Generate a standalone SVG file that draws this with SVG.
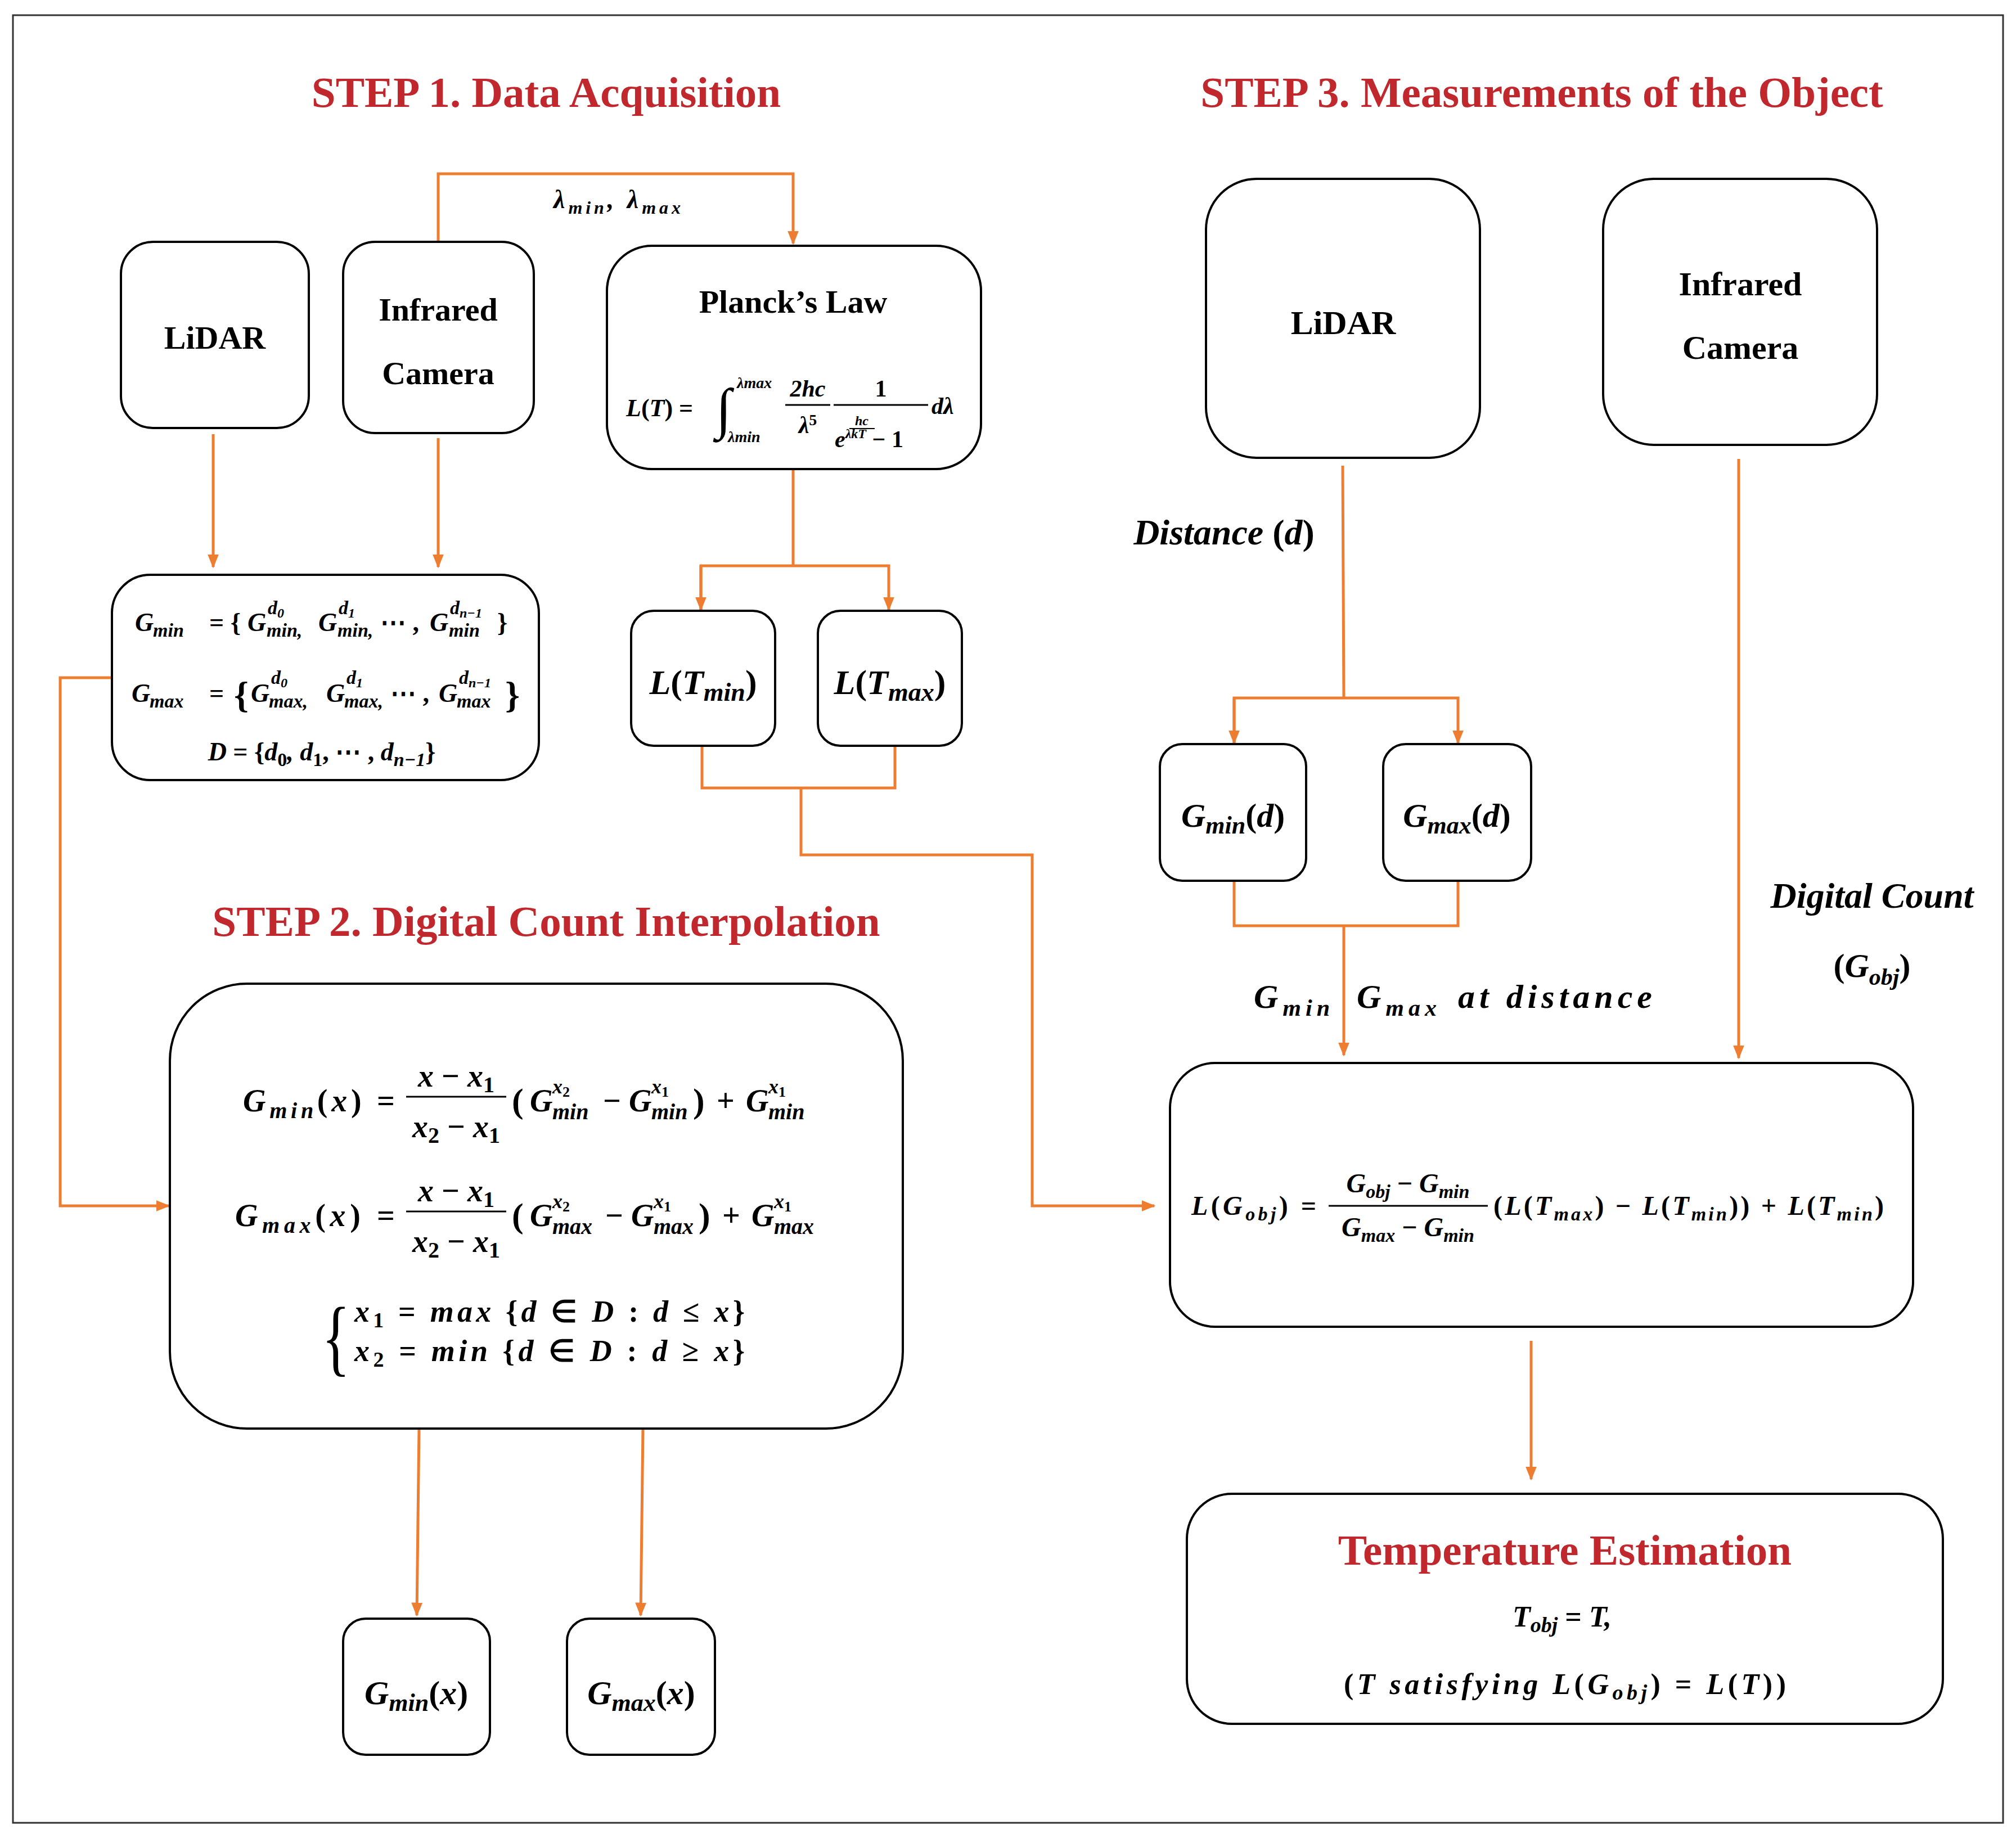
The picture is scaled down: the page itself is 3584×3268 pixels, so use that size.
<svg xmlns="http://www.w3.org/2000/svg" width="3584" height="3268" viewBox="0 0 3584 3268">
<style>
.bx{fill:#fff;stroke:#000;stroke-width:4}
.c{fill:none;stroke:#ED7D31;stroke-width:5}
.t{font-family:"Liberation Serif",serif;font-weight:bold;fill:#000}
.r{font-family:"Liberation Serif",serif;font-weight:bold;fill:#C0282D;font-size:77px}
.m{font-family:"Liberation Serif",serif;font-weight:bold;font-style:italic;fill:#000}
.u{font-style:normal}
.fl{stroke:#000;stroke-width:3}
</style>
<defs>
<marker id="a" viewBox="0 0 10 10" refX="9" refY="5" markerWidth="5" markerHeight="5" orient="auto" markerUnits="strokeWidth"><path d="M0,1 L10,5 L0,9 z" fill="#ED7D31"/></marker>
</defs>
<rect x="23" y="27" width="3538" height="3214" fill="#fff" stroke="#333" stroke-width="3"/>

<text class="r" x="971" y="190" text-anchor="middle">STEP 1. Data Acquisition</text>
<text class="r" x="2741" y="190" text-anchor="middle">STEP 3. Measurements of the Object</text>
<text class="r" x="971" y="1664" text-anchor="middle">STEP 2. Digital Count Interpolation</text>

<g id="connectors">
<path class="c" d="M779,430 V309 H1410 V433" marker-end="url(#a)"/>
<path class="c" d="M379,772 V1008" marker-end="url(#a)"/>
<path class="c" d="M779,779 V1008" marker-end="url(#a)"/>
<path class="c" d="M1410,834 V1006 M1246,1084 V1006 H1580 V1084" marker-end="url(#a)"/>
<path class="c" d="M1246,1006 V1084" marker-end="url(#a)"/>
<path class="c" d="M1248,1326 V1401 H1591 V1326 M1424,1401 V1520 H1835 V2144 H2052" marker-end="url(#a)"/>
<path class="c" d="M199,1205 H107 V2144 H300" marker-end="url(#a)"/>
<path class="c" d="M745,2540 L741,2872" marker-end="url(#a)"/>
<path class="c" d="M1143,2540 L1139,2872" marker-end="url(#a)"/>
<path class="c" d="M2387,828 L2389,1241 M2194,1321 V1241 H2592 V1321" marker-end="url(#a)"/>
<path class="c" d="M2194,1241 V1321" marker-end="url(#a)"/>
<path class="c" d="M2194,1566 V1646 H2592 V1566 M2389,1646 V1876" marker-end="url(#a)"/>
<path class="c" d="M3091,816 V1881" marker-end="url(#a)"/>
<path class="c" d="M2722,2384 V2630" marker-end="url(#a)"/>
</g>

<text class="m" x="984" y="370" font-size="46" textLength="226">λ<tspan font-size="32" dy="10">min</tspan><tspan dy="-10">, λ</tspan><tspan font-size="32" dy="10">max</tspan></text>
<text class="m" x="2176" y="968" font-size="64" text-anchor="middle">Distance <tspan class="u">(</tspan>d<tspan class="u">)</tspan></text>
<text class="m" x="2229" y="1792" font-size="60" textLength="708">G<tspan font-size="42" dy="14">min</tspan><tspan dy="-14" dx="40">G</tspan><tspan font-size="42" dy="14">max</tspan><tspan dy="-14" dx="30">at distance</tspan></text>
<text class="m" x="3328" y="1614" font-size="64" text-anchor="middle">Digital Count</text>
<text class="m" x="3328" y="1737" font-size="60" text-anchor="middle"><tspan class="u">(</tspan>G<tspan font-size="42" dy="14">obj</tspan><tspan class="u" dy="-14">)</tspan></text>

<g id="lidar1"><rect class="bx" x="215" y="430" width="334" height="331" rx="57"/>
<text class="t" x="382" y="620" font-size="58" text-anchor="middle">LiDAR</text></g>
<g id="ir1"><rect class="bx" x="610" y="430" width="339" height="340" rx="57"/>
<text class="t" x="779" y="570" font-size="58" text-anchor="middle">Infrared</text>
<text class="t" x="779" y="683" font-size="58" text-anchor="middle">Camera</text></g>

<g id="planck"><rect class="bx" x="1079" y="437" width="665" height="397" rx="80"/>
<text class="t" x="1410" y="556" font-size="58" text-anchor="middle">Planck’s Law</text>
<text class="m" x="1113" y="740" font-size="44">L<tspan class="u">(</tspan>T<tspan class="u">) =</tspan></text>
<text class="m" x="1272" y="760" font-size="100" font-weight="normal">∫</text>
<text class="m" x="1310" y="690" font-size="28">λ<tspan>max</tspan></text>
<text class="m" x="1294" y="786" font-size="28">λ<tspan>min</tspan></text>
<text class="m" x="1436" y="705" font-size="42" text-anchor="middle">2hc</text>
<line class="fl" x1="1396" y1="720" x2="1476" y2="720"/>
<text class="m" x="1436" y="770" font-size="42" text-anchor="middle">λ<tspan class="u" font-size="28" dy="-14">5</tspan></text>
<text class="m u" x="1566" y="705" font-size="42" text-anchor="middle">1</text>
<line class="fl" x1="1482" y1="720" x2="1650" y2="720"/>
<text class="m" x="1532" y="756" font-size="24" text-anchor="middle">hc</text>
<line x1="1510" y1="762" x2="1555" y2="762" stroke="#000" stroke-width="2"/>
<text class="m" x="1484" y="795" font-size="42">e<tspan font-size="24" dy="-16">λkT</tspan><tspan class="u" dy="16"> − 1</tspan></text>
<text class="m" x="1656" y="736" font-size="42">dλ</text></g>

<g id="gset"><rect class="bx" x="199" y="1022" width="759" height="365" rx="68"/>
<text class="m" x="240" y="1122" font-size="46">G</text><text class="m" x="272" y="1132" font-size="34">min</text>
<text class="m u" x="372" y="1122" font-size="46">= {</text>
<text class="m" x="440" y="1122" font-size="46">G</text>
<text class="m" x="476" y="1092" font-size="34">d<tspan font-size="24" dy="6">0</tspan></text><text class="m" x="474" y="1132" font-size="34">min,</text>
<text class="m" x="566" y="1122" font-size="46">G</text>
<text class="m" x="602" y="1092" font-size="34">d<tspan font-size="24" dy="6">1</tspan></text><text class="m" x="600" y="1132" font-size="34">min,</text>
<text class="m u" x="676" y="1122" font-size="46">⋯ ,</text>
<text class="m" x="764" y="1122" font-size="46">G</text>
<text class="m" x="800" y="1092" font-size="34">d<tspan font-size="24" dy="6">n−1</tspan></text><text class="m" x="798" y="1132" font-size="34">min</text>
<text class="m u" x="884" y="1122" font-size="46">}</text>

<text class="m" x="234" y="1248" font-size="46">G</text><text class="m" x="266" y="1258" font-size="34">max</text>
<text class="m u" x="372" y="1248" font-size="46">=</text>
<text class="m u" x="416" y="1258" font-size="66" font-weight="normal">{</text>
<text class="m" x="446" y="1248" font-size="46">G</text>
<text class="m" x="482" y="1216" font-size="34">d<tspan font-size="24" dy="6">0</tspan></text><text class="m" x="478" y="1258" font-size="34">max,</text>
<text class="m" x="580" y="1248" font-size="46">G</text>
<text class="m" x="616" y="1216" font-size="34">d<tspan font-size="24" dy="6">1</tspan></text><text class="m" x="612" y="1258" font-size="34">max,</text>
<text class="m u" x="694" y="1248" font-size="46">⋯ ,</text>
<text class="m" x="780" y="1248" font-size="46">G</text>
<text class="m" x="816" y="1216" font-size="34">d<tspan font-size="24" dy="6">n−1</tspan></text><text class="m" x="812" y="1258" font-size="34">max</text>
<text class="m u" x="898" y="1258" font-size="66" font-weight="normal">}</text>
<text class="m" x="572" y="1352" font-size="46" text-anchor="middle">D<tspan class="u"> = {</tspan>d<tspan font-size="34" dy="10" class="u">0</tspan><tspan dy="-10">, d</tspan><tspan font-size="34" dy="10" class="u">1</tspan><tspan dy="-10" class="u">, ⋯ , </tspan>d<tspan font-size="34" dy="10">n−1</tspan><tspan class="u" dy="-10">}</tspan></text></g>

<g id="ltmin"><rect class="bx" x="1122" y="1086" width="256" height="240" rx="40"/>
<text class="m" x="1250" y="1234" font-size="62" text-anchor="middle">L<tspan class="u">(</tspan>T<tspan font-size="46" dy="12">min</tspan><tspan class="u" dy="-12">)</tspan></text></g>
<g id="ltmax"><rect class="bx" x="1454" y="1086" width="256" height="240" rx="40"/>
<text class="m" x="1582" y="1234" font-size="62" text-anchor="middle">L<tspan class="u">(</tspan>T<tspan font-size="46" dy="12">max</tspan><tspan class="u" dy="-12">)</tspan></text></g>

<g id="step2box"><rect class="bx" x="302" y="1749" width="1303" height="791" rx="137"/>
<text class="m" x="432" y="1976" font-size="56" textLength="270">G<tspan font-size="40" dy="12">min</tspan><tspan class="u" dy="-12">(</tspan>x<tspan class="u">) =</tspan></text>
<text class="m" x="811" y="1932" font-size="56" text-anchor="middle">x <tspan class="u">−</tspan> x<tspan class="u" font-size="40" dy="10">1</tspan></text>
<line class="fl" x1="722" y1="1950" x2="900" y2="1950"/>
<text class="m" x="811" y="2022" font-size="56" text-anchor="middle">x<tspan class="u" font-size="40" dy="10">2</tspan><tspan dy="-10" class="u"> − </tspan>x<tspan class="u" font-size="40" dy="10">1</tspan></text>
<text class="m u" x="910" y="1978" font-size="62">(</text>
<text class="m" x="942" y="1976" font-size="56">G</text><text class="m" x="982" y="1944" font-size="36">x<tspan font-size="26" dy="6" class="u">2</tspan></text><text class="m" x="982" y="1990" font-size="40">min</text>
<text class="m u" x="1072" y="1976" font-size="56">−</text>
<text class="m" x="1118" y="1976" font-size="56">G</text><text class="m" x="1158" y="1944" font-size="36">x<tspan font-size="26" dy="6" class="u">1</tspan></text><text class="m" x="1158" y="1990" font-size="40">min</text>
<text class="m u" x="1232" y="1978" font-size="62">)</text>
<text class="m u" x="1274" y="1976" font-size="56">+</text>
<text class="m" x="1326" y="1976" font-size="56">G</text><text class="m" x="1366" y="1944" font-size="36">x<tspan font-size="26" dy="6" class="u">1</tspan></text><text class="m" x="1366" y="1990" font-size="40">min</text>

<text class="m" x="418" y="2180" font-size="56" textLength="284">G<tspan font-size="40" dy="12">max</tspan><tspan class="u" dy="-12">(</tspan>x<tspan class="u">) =</tspan></text>
<text class="m" x="811" y="2136" font-size="56" text-anchor="middle">x <tspan class="u">−</tspan> x<tspan class="u" font-size="40" dy="10">1</tspan></text>
<line class="fl" x1="722" y1="2154" x2="900" y2="2154"/>
<text class="m" x="811" y="2226" font-size="56" text-anchor="middle">x<tspan class="u" font-size="40" dy="10">2</tspan><tspan dy="-10" class="u"> − </tspan>x<tspan class="u" font-size="40" dy="10">1</tspan></text>
<text class="m u" x="910" y="2182" font-size="62">(</text>
<text class="m" x="942" y="2180" font-size="56">G</text><text class="m" x="982" y="2148" font-size="36">x<tspan font-size="26" dy="6" class="u">2</tspan></text><text class="m" x="982" y="2194" font-size="40">max</text>
<text class="m u" x="1076" y="2180" font-size="56">−</text>
<text class="m" x="1122" y="2180" font-size="56">G</text><text class="m" x="1162" y="2148" font-size="36">x<tspan font-size="26" dy="6" class="u">1</tspan></text><text class="m" x="1162" y="2194" font-size="40">max</text>
<text class="m u" x="1242" y="2182" font-size="62">)</text>
<text class="m u" x="1284" y="2180" font-size="56">+</text>
<text class="m" x="1336" y="2180" font-size="56">G</text><text class="m" x="1376" y="2148" font-size="36">x<tspan font-size="26" dy="6" class="u">1</tspan></text><text class="m" x="1376" y="2194" font-size="40">max</text>

<text x="572" y="2428" font-size="150" font-family="Liberation Serif,serif" transform="translate(572,2428) scale(0.7,1) translate(-572,-2428)">{</text>
<text class="m" x="630" y="2350" font-size="54" textLength="694">x<tspan class="u" font-size="38" dy="10">1</tspan><tspan class="u" dy="-10">  =  </tspan>max<tspan class="u"> {</tspan>d <tspan class="u">∈</tspan> D <tspan class="u">:</tspan>  d <tspan class="u">≤</tspan>  x<tspan class="u">}</tspan></text>
<text class="m" x="630" y="2420" font-size="54" textLength="694">x<tspan class="u" font-size="38" dy="10">2</tspan><tspan class="u" dy="-10">  =  </tspan>min<tspan class="u"> {</tspan>d <tspan class="u">∈</tspan> D <tspan class="u">:</tspan>  d <tspan class="u">≥</tspan>  x<tspan class="u">}</tspan></text></g>

<g id="gminx"><rect class="bx" x="610" y="2878" width="261" height="242" rx="40"/>
<text class="m" x="740" y="3030" font-size="60" text-anchor="middle">G<tspan font-size="44" dy="12">min</tspan><tspan class="u" dy="-12">(</tspan>x<tspan class="u">)</tspan></text></g>
<g id="gmaxx"><rect class="bx" x="1008" y="2878" width="263" height="242" rx="40"/>
<text class="m" x="1140" y="3030" font-size="60" text-anchor="middle">G<tspan font-size="44" dy="12">max</tspan><tspan class="u" dy="-12">(</tspan>x<tspan class="u">)</tspan></text></g>

<g id="lidar3"><rect class="bx" x="2144" y="318" width="487" height="496" rx="90"/>
<text class="t" x="2388" y="594" font-size="60" text-anchor="middle">LiDAR</text></g>
<g id="ir3"><rect class="bx" x="2850" y="318" width="487" height="473" rx="90"/>
<text class="t" x="3094" y="525" font-size="60" text-anchor="middle">Infrared</text>
<text class="t" x="3094" y="638" font-size="60" text-anchor="middle">Camera</text></g>

<g id="gmind"><rect class="bx" x="2062" y="1323" width="260" height="243" rx="40"/>
<text class="m" x="2192" y="1470" font-size="60" text-anchor="middle">G<tspan font-size="44" dy="12">min</tspan><tspan class="u" dy="-12">(</tspan>d<tspan class="u">)</tspan></text></g>
<g id="gmaxd"><rect class="bx" x="2459" y="1323" width="263" height="243" rx="40"/>
<text class="m" x="2590" y="1470" font-size="60" text-anchor="middle">G<tspan font-size="44" dy="12">max</tspan><tspan class="u" dy="-12">(</tspan>d<tspan class="u">)</tspan></text></g>

<g id="lgobj"><rect class="bx" x="2080" y="1890" width="1321" height="469" rx="80"/>
<text class="m" x="2118" y="2160" font-size="48" textLength="222">L<tspan class="u">(</tspan>G<tspan font-size="34" dy="10">obj</tspan><tspan class="u" dy="-10">) =</tspan></text>
<text class="m" x="2503" y="2120" font-size="48" text-anchor="middle">G<tspan font-size="34" dy="10">obj</tspan><tspan class="u" dy="-10"> − </tspan>G<tspan font-size="34" dy="10">min</tspan></text>
<line class="fl" x1="2362" y1="2144" x2="2645" y2="2144"/>
<text class="m" x="2503" y="2198" font-size="48" text-anchor="middle">G<tspan font-size="34" dy="10">max</tspan><tspan class="u" dy="-10"> − </tspan>G<tspan font-size="34" dy="10">min</tspan></text>
<text class="m" x="2655" y="2160" font-size="48" textLength="694"><tspan class="u">(</tspan>L<tspan class="u">(</tspan>T<tspan font-size="34" dy="10">max</tspan><tspan class="u" dy="-10">) − </tspan>L<tspan class="u">(</tspan>T<tspan font-size="34" dy="10">min</tspan><tspan class="u" dy="-10">)) + </tspan>L<tspan class="u">(</tspan>T<tspan font-size="34" dy="10">min</tspan><tspan class="u" dy="-10">)</tspan></text></g>

<g id="temp"><rect class="bx" x="2110" y="2656" width="1344" height="409" rx="80"/>
<text class="r" x="2782" y="2782" text-anchor="middle">Temperature Estimation</text>
<text class="m" x="2777" y="2892" font-size="52" text-anchor="middle">T<tspan font-size="38" dy="10">obj</tspan><tspan class="u" dy="-10"> = </tspan>T,</text>
<text class="m" x="2389" y="3012" font-size="52" textLength="786"><tspan class="u">(</tspan>T satisfying  L<tspan class="u">(</tspan>G<tspan font-size="38" dy="10">obj</tspan><tspan class="u" dy="-10">) = </tspan>L<tspan class="u">(</tspan>T<tspan class="u">))</tspan></text></g>
</svg>
